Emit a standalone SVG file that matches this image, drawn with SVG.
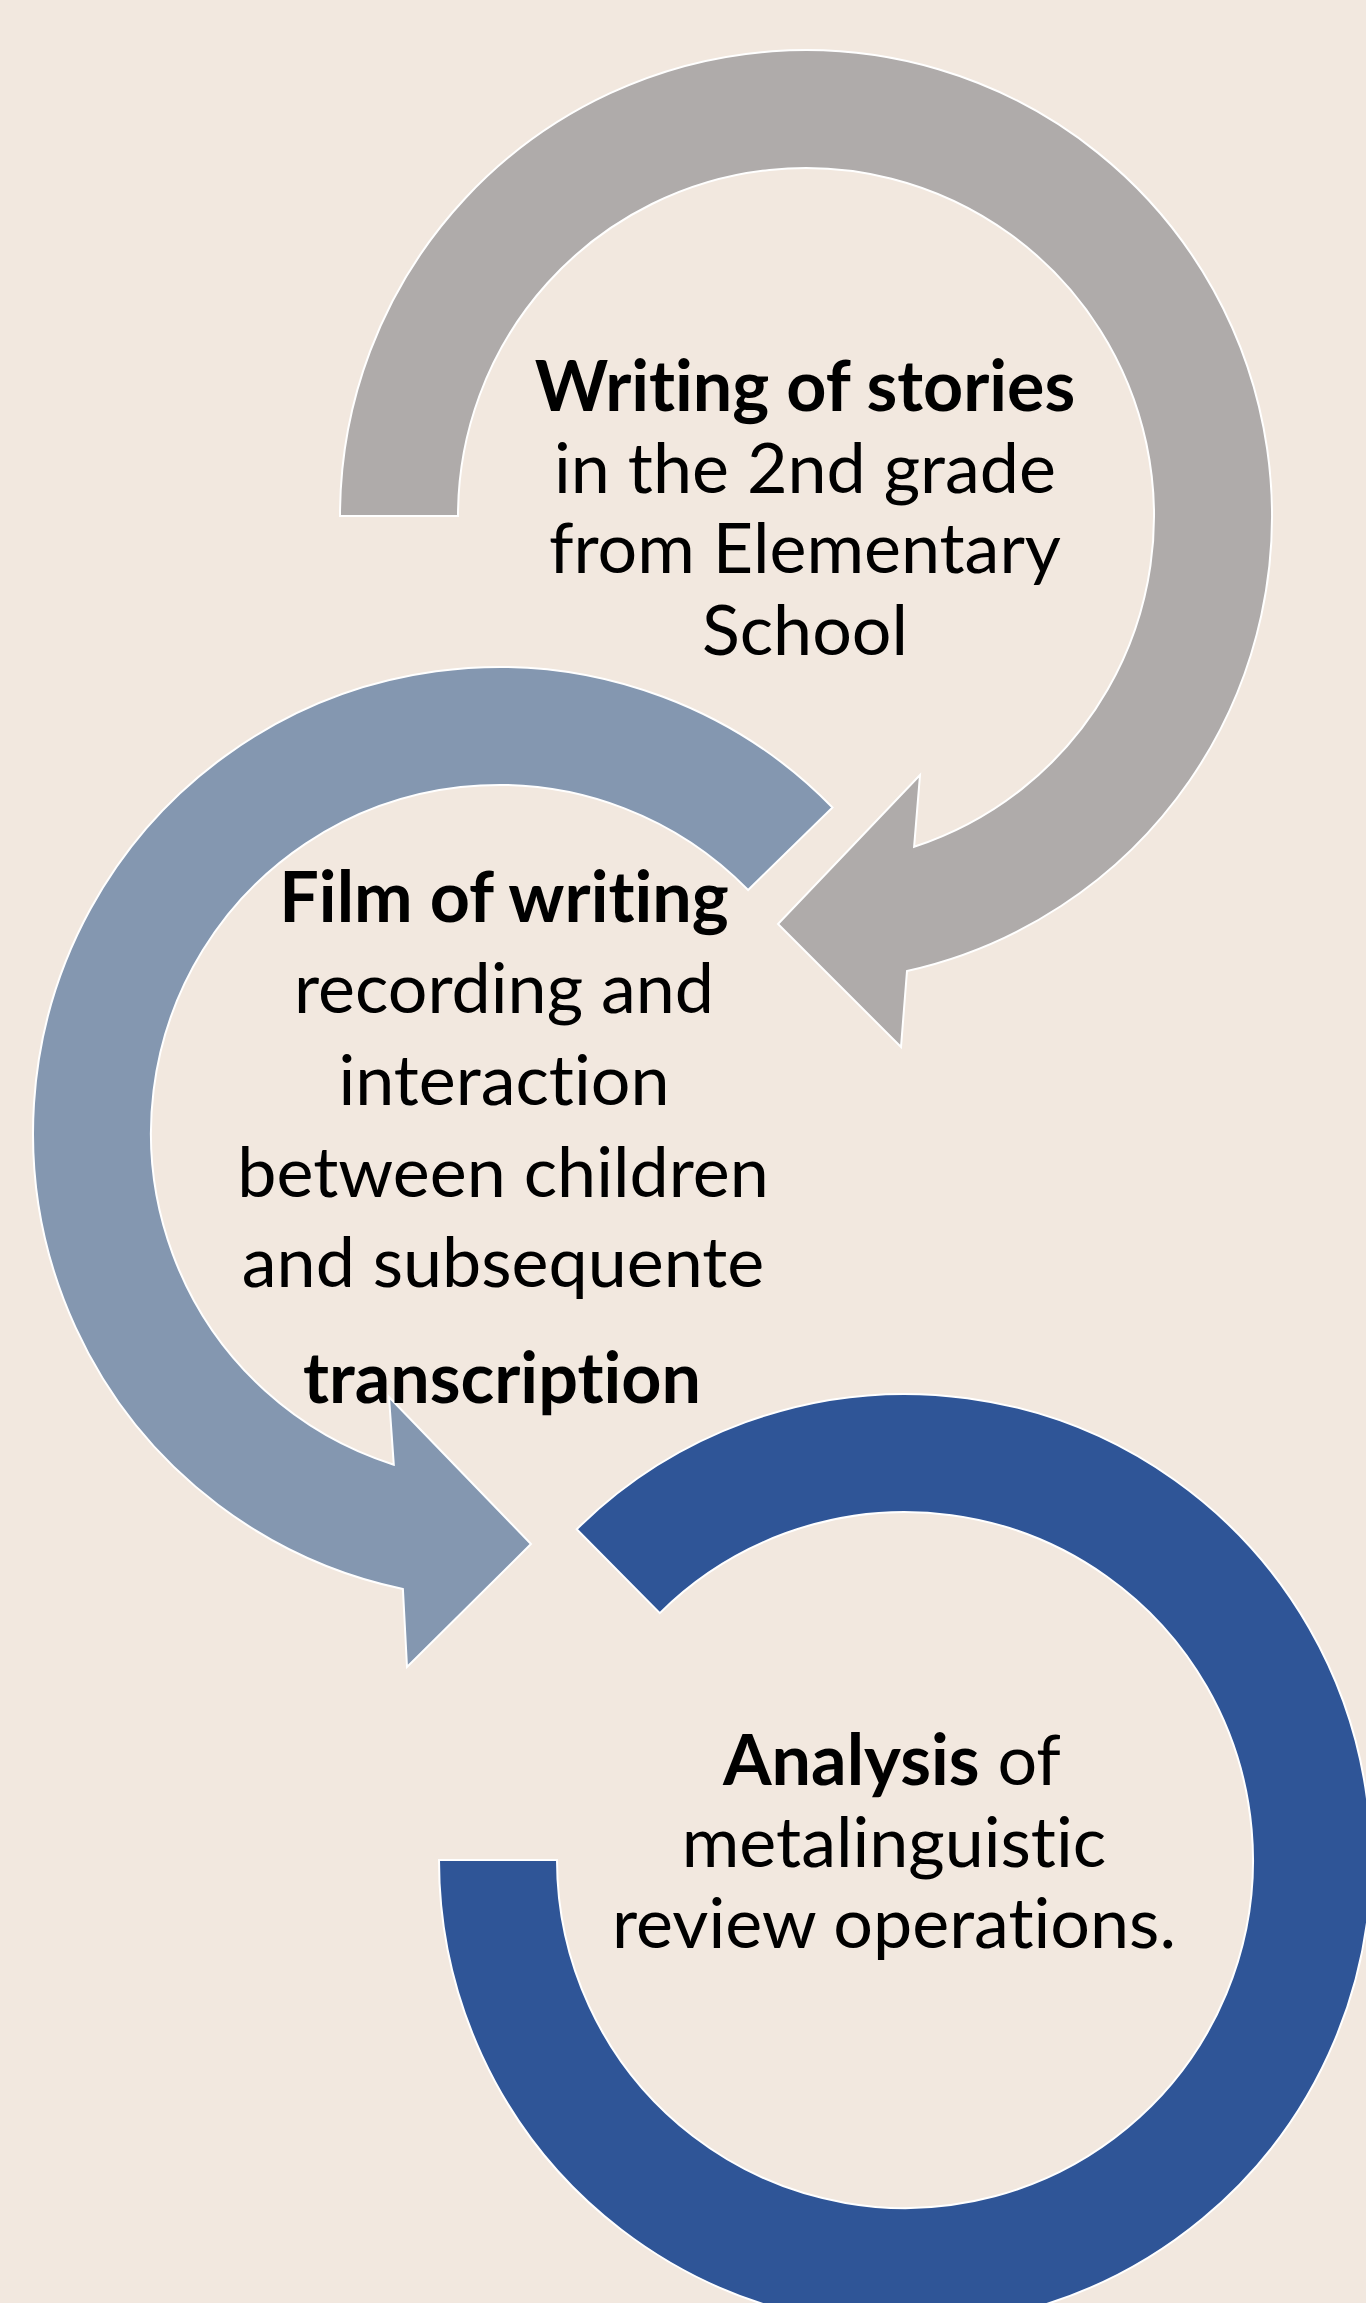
<svg xmlns="http://www.w3.org/2000/svg" width="1366" height="2303" viewBox="0 0 1366 2303">
<style>
.arc{stroke:#FFFFFF;stroke-width:2;stroke-linejoin:miter}
.t{font-family:Lato,"Open Sans","Liberation Sans",sans-serif;font-size:70px;fill:#000000;text-anchor:middle;font-variant-ligatures:none;font-feature-settings:"liga" 0}
.b{font-weight:bold}
</style>
<rect x="0" y="0" width="1366" height="2303" fill="#F2E8DF"/>
<g id="node-1">
<path class="arc" fill="#AFABAA" d="M 340 516 A 466 466 0 1 1 907 971 L 901 1047 L 778 924 L 920 775 L 914.1 846.8 A 348 348 0 1 0 458 516 Z"/>
<text class="t b" x="805" y="411">Writing of stories</text>
<text class="t" x="805" y="493">in the 2nd grade</text>
<text class="t" x="805" y="573">from Elementary</text>
<text class="t" x="805" y="655">School</text>
</g>
<g id="node-2">
<path class="arc" fill="#8497B0" d="M 832.5 807.5 A 466 466 0 1 0 402.9 1589 L 407 1667 L 531 1544 L 389 1397 L 393.8 1464.7 A 348 348 0 1 1 748.1 890 Z"/>
<text class="t b" x="504" y="922">Film of writing</text>
<text class="t" x="504" y="1013">recording and</text>
<text class="t" x="504" y="1105">interaction</text>
<text class="t" x="503" y="1197">between children</text>
<text class="t" x="503" y="1287">and subsequente</text>
<text class="t b" x="502" y="1403">transcription</text>
</g>
<g id="node-3">
<path class="arc" fill="#2F5597" d="M 576.7 1529.3 A 466 466 0 1 1 439 1860 L 557 1860 A 348 348 0 1 0 659.8 1613.1 Z"/>
<text class="t" x="892" y="1785"><tspan class="b" font-weight="bold">Analysis</tspan> of</text>
<text class="t" x="894" y="1867">metalinguistic</text>
<text class="t" x="894" y="1948">review operations.</text>
</g>
<g id="connectors"></g>
</svg>
